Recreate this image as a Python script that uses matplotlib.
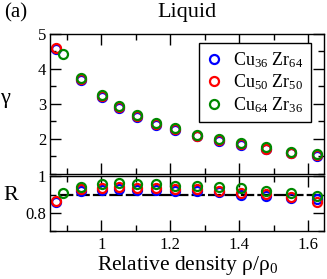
import matplotlib
matplotlib.use("Agg")
import matplotlib.pyplot as plt
from matplotlib.ticker import MultipleLocator, FixedLocator, FuncFormatter

plt.rcParams['font.family'] = ['Liberation Serif', 'DejaVu Serif']
plt.rcParams['mathtext.fontset'] = 'custom'
plt.rcParams['mathtext.rm'] = 'Liberation Serif'
plt.rcParams['mathtext.it'] = 'Liberation Serif:italic'

# ---- data ----
labels = ["Cu$_{36}$ Zr$_{64}$", "Cu$_{50}$ Zr$_{50}$", "Cu$_{64}$ Zr$_{36}$"]
colors = ["#0000ff", "#ff0000", "#008800"]

x_common = [0.942, 1.001, 1.050, 1.102, 1.157, 1.214, 1.276, 1.341, 1.405, 1.477, 1.549, 1.625]
x_blue = [0.869] + x_common
x_red = [0.869] + x_common
x_green = [0.887] + x_common

gamma_blue = [4.58, 3.68, 3.19, 2.88, 2.61, 2.40, 2.25, 2.07, 1.94, 1.83, 1.70, 1.59, 1.52]
gamma_red = [4.61, 3.71, 3.21, 2.91, 2.64, 2.42, 2.27, 2.09, 1.96, 1.85, 1.72, 1.60, 1.54]
gamma_green = [4.42, 3.74, 3.24, 2.94, 2.67, 2.45, 2.30, 2.12, 1.99, 1.88, 1.75, 1.63, 1.57]

R_blue = [0.860, 0.920, 0.926, 0.930, 0.927, 0.925, 0.922, 0.922, 0.912, 0.898, 0.893, 0.880, 0.876]
R_red = [0.867, 0.930, 0.936, 0.940, 0.937, 0.935, 0.932, 0.930, 0.920, 0.908, 0.904, 0.889, 0.862]
R_green = [0.911, 0.944, 0.958, 0.963, 0.958, 0.958, 0.950, 0.950, 0.944, 0.935, 0.920, 0.908, 0.894]

R_ref = 0.9
R_ref_span = (0.88, 1.64)

xs = [x_blue, x_red, x_green]
gammas = [gamma_blue, gamma_red, gamma_green]
Rs = [R_blue, R_red, R_green]

# ---- figure ----
fig = plt.figure(figsize=(3.27, 2.79), dpi=100)
ax1 = fig.add_axes([0.1544, 0.3774, 0.8364, 0.5011])
ax2 = fig.add_axes([0.1544, 0.172, 0.8364, 0.1954])

mk = dict(marker='o', linestyle='none', markersize=6.5, markerfacecolor='none', markeredgewidth=1.6)
for x, g, c, lab in zip(xs, gammas, colors, labels):
    ax1.plot(x, g, color=c, markeredgecolor=c, label=lab, **mk)
ax2.hlines(R_ref, R_ref_span[0], R_ref_span[1], colors='black', linewidth=1.6,
           linestyles=(0, (6, 1.4)), zorder=1)
for x, r, c in zip(xs, Rs, colors):
    ax2.plot(x, r, color=c, markeredgecolor=c, zorder=2, **mk)

for ax in (ax1, ax2):
    ax.set_xlim(0.852, 1.646)
    ax.xaxis.set_major_locator(MultipleLocator(0.2))
    ax.xaxis.set_minor_locator(MultipleLocator(0.1))
    ax.tick_params(which='both', direction='in', top=True, right=True, labelsize=12, width=1.0)
    ax.tick_params(which='major', length=8)
    ax.tick_params(which='minor', length=4)
    ax.tick_params(axis='y', pad=3)
    for s in ax.spines.values():
        s.set_linewidth(1.0)

ax1.set_ylim(1, 5)
ax1.yaxis.set_major_locator(FixedLocator([2, 3, 4, 5]))
ax1.yaxis.set_minor_locator(MultipleLocator(0.5))
ax1.tick_params(labelbottom=False)

ax2.set_ylim(0.7, 1.0)
ax2.yaxis.set_major_locator(FixedLocator([0.8, 1.0]))
ax2.yaxis.set_minor_locator(MultipleLocator(0.1))
ax2.yaxis.set_major_formatter(FuncFormatter(lambda v, p: f"{v:g}"))
ax2.xaxis.set_major_formatter(FuncFormatter(lambda v, p: f"{v:g}"))
ax2.tick_params(axis='x', pad=4)

ax1.set_ylabel("γ", rotation=0, fontsize=16, labelpad=0)
ax1.yaxis.set_label_coords(-0.165, 0.47)
ax2.set_ylabel("R", rotation=0, fontsize=16, labelpad=0)
ax2.yaxis.set_label_coords(-0.145, 0.48)
ax2.set_xlabel("Relative density ρ/ρ$_0$", fontsize=15.5, labelpad=1)

fig.text(0.572, 0.955, "Liquid", fontsize=16, va='center', ha='center')
fig.text(0.012, 0.955, "(a)", fontsize=15, va='center', ha='left')

leg = ax1.legend(loc='upper right', bbox_to_anchor=(0.952, 0.935), borderaxespad=0,
                 fontsize=13, frameon=True, fancybox=False, framealpha=1, edgecolor='black',
                 handlelength=0.8, handletextpad=0.7, labelspacing=0.15, borderpad=0.4,
                 numpoints=1)
leg.get_frame().set_linewidth(1.0)

fig.savefig("out.png", dpi=100)
